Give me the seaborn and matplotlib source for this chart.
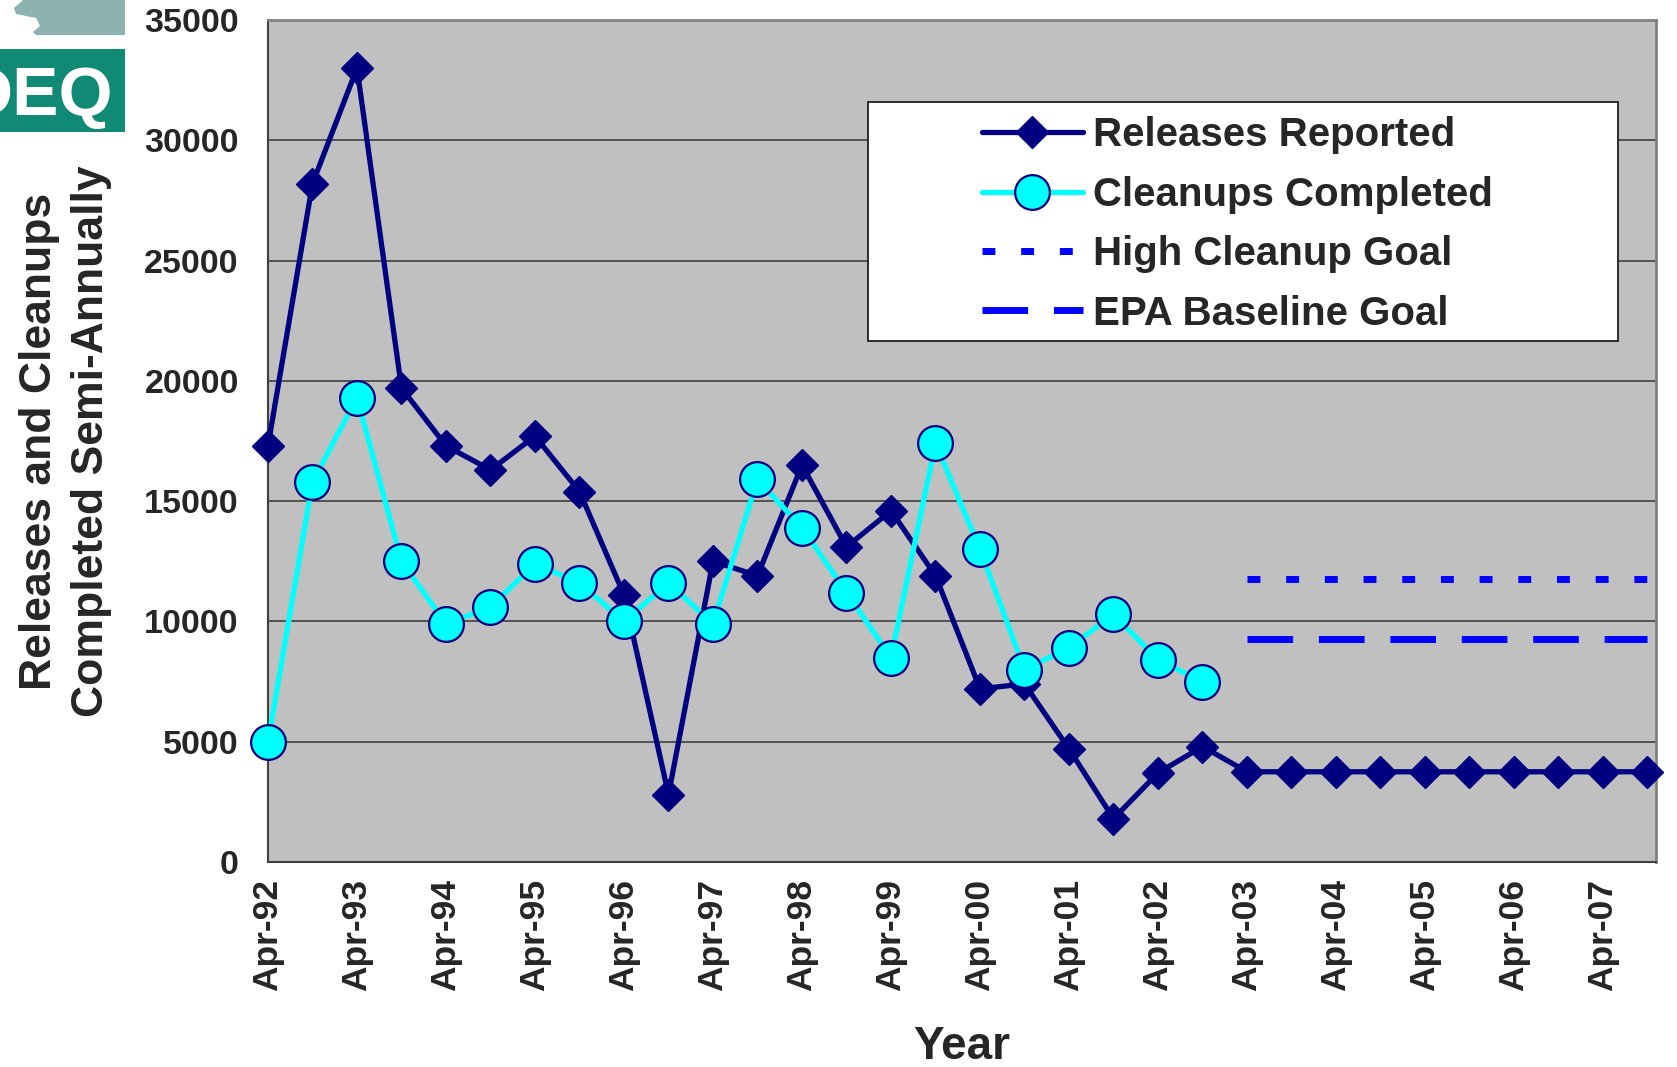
import numpy as np
import pandas as pd
import matplotlib
matplotlib.use("Agg")
import matplotlib.pyplot as plt
from matplotlib.patches import Rectangle, Polygon
import seaborn as sns

# ---------------- data ----------------
periods = ["Apr-92", "Oct-92", "Apr-93", "Oct-93", "Apr-94", "Oct-94", "Apr-95", "Oct-95",
           "Apr-96", "Oct-96", "Apr-97", "Oct-97", "Apr-98", "Oct-98", "Apr-99", "Oct-99",
           "Apr-00", "Oct-00", "Apr-01", "Oct-01", "Apr-02", "Oct-02", "Apr-03", "Oct-03",
           "Apr-04", "Oct-04", "Apr-05", "Oct-05", "Apr-06", "Oct-06", "Apr-07", "Oct-07"]
releases = [17300, 28200, 33000, 19700, 17300, 16300, 17700, 15400,
            11100, 2800, 12500, 11900, 16500, 13100, 14600, 11900,
            7200, 7400, 4700, 1800, 3700, 4800, 3750, 3750,
            3750, 3750, 3750, 3750, 3750, 3750, 3750, 3750]
cleanups = [5000, 15800, 19300, 12500, 9900, 10600, 12400, 11600,
            10000, 11600, 9900, 15900, 13900, 11200, 8500, 17400,
            13000, 8000, 8900, 10300, 8400, 7500]
goal_periods = ["Apr-03", "Oct-03", "Apr-04", "Oct-04", "Apr-05", "Oct-05",
                "Apr-06", "Oct-06", "Apr-07", "Oct-07"]
high_goal = [11750, 11750, 11750, 11750, 11750, 11750, 11750, 11750, 11750, 11750]
epa_goal = [9250, 9250, 9250, 9250, 9250, 9250, 9250, 9250, 9250, 9250]
year_ticks = ["Apr-92", "Apr-93", "Apr-94", "Apr-95", "Apr-96", "Apr-97", "Apr-98", "Apr-99",
              "Apr-00", "Apr-01", "Apr-02", "Apr-03", "Apr-04", "Apr-05", "Apr-06", "Apr-07"]
y_ticks = [0, 5000, 10000, 15000, 20000, 25000, 30000, 35000]

labels = ["Releases Reported", "Cleanups Completed", "High Cleanup Goal", "EPA Baseline Goal"]

pos = {p: i for i, p in enumerate(periods)}
df_rel = pd.DataFrame({"x": [pos[p] for p in periods], "y": releases})
df_cln = pd.DataFrame({"x": [pos[p] for p in periods[:len(cleanups)]], "y": cleanups})
df_hi = pd.DataFrame({"x": [pos[p] for p in goal_periods], "y": high_goal})
df_epa = pd.DataFrame({"x": [pos[p] for p in goal_periods], "y": epa_goal})

# ---------------- style ----------------
sns.set_theme(style="white")
plt.rcParams["font.family"] = ["Liberation Sans", "DejaVu Sans"]
plt.rcParams["font.weight"] = "bold"

NAVY = "#000080"
CYAN = "#00FFFF"
BLUE = "#0000FF"

W, H = 1677, 1067
fig = plt.figure(figsize=(W / 100, H / 100), dpi=100)
fig.patch.set_facecolor("white")
ax = fig.add_axes([268 / W, (H - 862) / H, (1655.5 - 268) / W, (862 - 20) / H])
ax.set_facecolor("#C0C0C0")

sns.lineplot(data=df_rel, x="x", y="y", ax=ax, color=NAVY, lw=3.8, marker="D",
             markersize=16.5, markerfacecolor=NAVY, markeredgecolor=NAVY,
             markeredgewidth=1, label=labels[0], errorbar=None, zorder=3)
sns.lineplot(data=df_cln, x="x", y="y", ax=ax, color=CYAN, lw=3.8, marker="o",
             markersize=25, markerfacecolor=CYAN, markeredgecolor=NAVY,
             markeredgewidth=1.6, label=labels[1], errorbar=None, zorder=3)
sns.lineplot(data=df_hi, x="x", y="y", ax=ax, color=BLUE, lw=5, label=labels[2],
             errorbar=None, zorder=3)
sns.lineplot(data=df_epa, x="x", y="y", ax=ax, color=BLUE, lw=5, label=labels[3],
             errorbar=None, zorder=3)

lines = ax.get_lines()
for ln in lines:
    ln.set_clip_on(False)
lines[2].set_linestyle((0, (13 / 7, 26 / 7)))
lines[2].set_dash_capstyle("butt")
lines[3].set_linestyle((0, (46 / 7, 26 / 7)))
lines[3].set_dash_capstyle("butt")

# axes
ax.set_xlim(0, 31.18)
ax.set_ylim(0, 35000)
ax.set_yticks(y_ticks)
ax.set_yticklabels([str(v) for v in y_ticks], fontsize=24.5, fontweight="bold")
ax.set_xticks([pos[p] for p in year_ticks])
ax.set_xticklabels(year_ticks, rotation=90, fontsize=25.5, fontweight="bold")
ax.tick_params(axis="y", direction="out", length=8, width=1.2, color="#404040", pad=13)
ax.tick_params(axis="x", direction="out", length=8, width=1.2, color="#404040", pad=4)
ax.set_axisbelow(True)
ax.yaxis.grid(True, color="#404040", lw=1.2)
ax.xaxis.grid(False)
for s in ["left", "bottom"]:
    ax.spines[s].set_color("#404040")
    ax.spines[s].set_linewidth(1.5)
for s in ["right", "top"]:
    ax.spines[s].set_color("#808080")
    ax.spines[s].set_linewidth(2)

ax.set_xlabel("Year", fontsize=33, fontweight="bold")
ax.xaxis.set_label_coords(0.5, -0.193)
ax.set_ylabel("Releases and Cleanups\nCompleted Semi-Annually", fontsize=32,
              fontweight="bold", linespacing=1.35)
ax.yaxis.set_label_coords(-0.1124, 0.5)

# legend
ax.add_patch(Rectangle((868 / W, 1 - 341 / H), 750 / W, 239 / H, transform=fig.transFigure,
                       facecolor="white", edgecolor="#202020", lw=1.3, zorder=4))
handles, labs = ax.get_legend_handles_labels()
leg = ax.legend(handles, labs, loc="upper left", bbox_to_anchor=(982 / W, 1 - 116.5 / H),
                bbox_transform=fig.transFigure, frameon=False, fontsize=29,
                handlelength=2.5, handletextpad=0.25, labelspacing=0.53, borderpad=0,
                borderaxespad=0)
for t in leg.get_texts():
    t.set_fontweight("bold")
leg.set_zorder(5)

# logo (decorative)
fig.patches.append(Polygon([(23 / W, 1), (14 / W, 1 - 8 / H), (16 / W, 1 - 14 / H),
                            (36 / W, 1 - 18 / H), (40 / W, 1 - 26 / H), (33 / W, 1 - 32 / H),
                            (36 / W, 1 - 35 / H), (125 / W, 1 - 35 / H), (125 / W, 1)],
                           closed=True, transform=fig.transFigure, facecolor="#8DB3B0",
                           edgecolor="none"))
logo = Rectangle((0, 1 - 132 / H), 125 / W, 83 / H, transform=fig.transFigure,
                 facecolor="#108A74", edgecolor="none")
fig.patches.append(logo)
fig.text(113 / W, 1 - 115 / H, "DEQ", ha="right", va="baseline", color="white",
         fontsize=50, fontweight="bold")

fig.savefig("out.png", dpi=100)
